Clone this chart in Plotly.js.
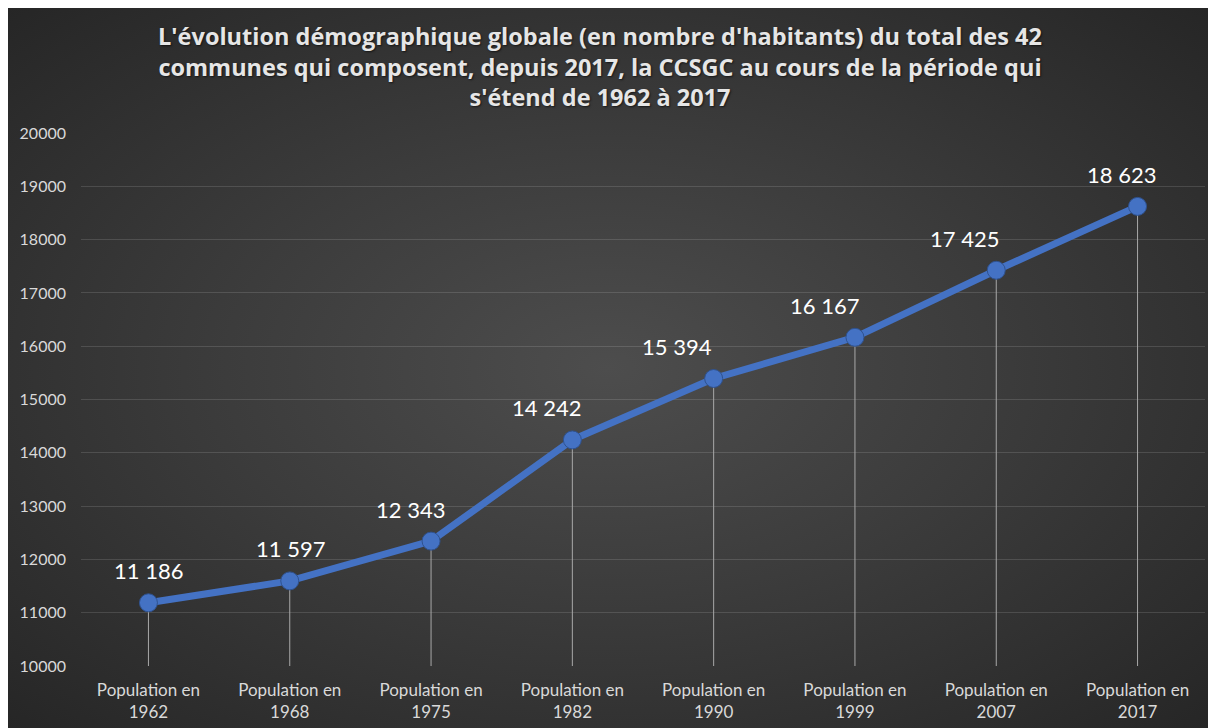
<!DOCTYPE html>
<html>
<head>
<meta charset="utf-8">
<script src="https://cdn.plot.ly/plotly-3.0.1.min.js"></script>
<style>
  body { margin: 8px 0 0 8px; background: #ffffff; }
  #chart { width: 1200px; height: 720px;
    background: radial-gradient(ellipse at 50% 50%, #4d4d4d 0%, #3c3c3c 45%, #262626 100%); }
  #chart .gtitle { text-shadow: 1px 1px 2px rgba(0,0,0,0.6); }
</style>
</head>
<body>
<div id="chart"></div>
<script>
const years = ["1962", "1968", "1975", "1982", "1990", "1999", "2007", "2017"];
const categories = years.map(y => "Population en<br>" + y);
const population = [11186, 11597, 12343, 14242, 15394, 16167, 17425, 18623];
const yTicks = [10000, 11000, 12000, 13000, 14000, 15000, 16000, 17000, 18000, 19000, 20000];
const axisBase = 10000;
const labelShiftX = [0, 1, -21, -26, -37, -30, -32, -16];

function fmt(v) { return String(v).replace(/\B(?=(\d{3})+(?!\d))/g, " "); }

const dropLines = {
  x: categories, y: population, type: "scatter", mode: "markers",
  marker: { size: 1, opacity: 0 },
  error_y: { type: "data", symmetric: false,
    array: population.map(() => 0),
    arrayminus: population.map(v => v - axisBase),
    color: "#a8a8a8", thickness: 1, width: 0 },
  hoverinfo: "skip", showlegend: false
};

const line = {
  x: categories, y: population, type: "scatter", mode: "lines+markers",
  line: { color: "#4472c4", width: 7 },
  marker: { size: 18, color: "#4472c4", line: { color: "#2f528f", width: 1 } },
  showlegend: false
};

const annotations = population.map((v, i) => ({
  x: categories[i], y: v, xref: "x", yref: "y",
  text: fmt(v), showarrow: false, yshift: 32, xshift: labelShiftX[i],
  font: { family: "Lato, sans-serif", size: 22, color: "#ffffff" }
}));

const layout = {
  width: 1200, height: 720,
  paper_bgcolor: "rgba(0,0,0,0)", plot_bgcolor: "rgba(0,0,0,0)",
  margin: { l: 73, r: 3, t: 125, b: 62 },
  title: {
    text: "L'évolution démographique globale (en nombre d'habitants) du total des 42<br>communes qui composent, depuis 2017, la CCSGC au cours de la période qui<br>s'étend de 1962 à 2017",
    font: { family: "'Open Sans', sans-serif", size: 23.5, color: "#e6e6e6", weight: "bold" },
    x: 0.5 - 8 / 1200, xanchor: "center", xref: "container",
    y: 1 - 37 / 720, yanchor: "middle", yref: "container"
  },
  xaxis: {
    type: "category", showgrid: false, zeroline: false, showline: false,
    ticks: "", tickfont: { family: "Lato, sans-serif", size: 17, color: "#d9d9d9" },
    ticklabelstandoff: 12
  },
  yaxis: {
    range: [10000, 20000], tickvals: yTicks, tickformat: "d",
    showgrid: true, gridcolor: "rgba(255,255,255,0.13)", gridwidth: 1,
    zeroline: false, showline: false, ticks: "",
    tickfont: { family: "Lato, sans-serif", size: 16, color: "#d9d9d9" },
    ticklabelstandoff: 14
  },
  annotations: annotations
};

Plotly.newPlot("chart", [dropLines, line], layout, { displayModeBar: false, staticPlot: true });
</script>
</body>
</html>
